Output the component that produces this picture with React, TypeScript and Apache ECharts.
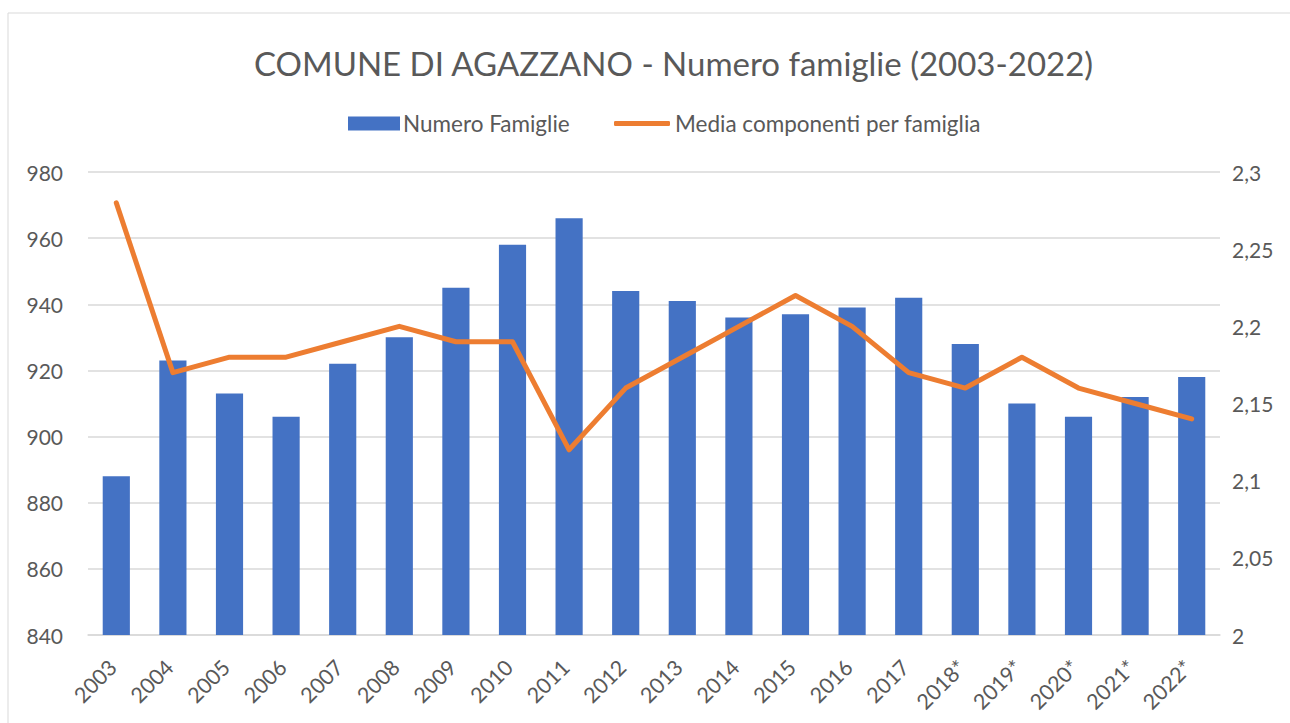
import React, { useEffect, useRef } from "react";
import * as echarts from "echarts";

const categories = ["2003","2004","2005","2006","2007","2008","2009","2010","2011","2012","2013","2014","2015","2016","2017","2018*","2019*","2020*","2021*","2022*"];
const famiglie = [888,923,913,906,922,930,945,958,966,944,941,936,937,939,942,928,910,906,912,918];
const mediaComponenti = [2.28,2.17,2.18,2.18,2.19,2.2,2.19,2.19,2.12,2.16,2.18,2.2,2.22,2.2,2.17,2.16,2.18,2.16,2.15,2.14];

const FONT = "Lato, 'Open Sans', sans-serif";
const TXT = "#595959";

export default function App() {
  const ref = useRef<HTMLDivElement>(null);
  useEffect(() => {
    if (!ref.current) return;
    const chart = echarts.init(ref.current, undefined, { renderer: "svg" });
    chart.setOption({
      animation: false,
      backgroundColor: "#ffffff",
      textStyle: { fontFamily: FONT, color: TXT },
      graphic: [
        { type: "rect", shape: { x: 8, y: 13, width: 1300, height: 720 }, style: { fill: "none", stroke: "#D9D9D9", lineWidth: 1 }, silent: true },
      ],
      title: {
        text: "COMUNE DI AGAZZANO - Numero famiglie (2003-2022)",
        left: 249,
        top: 41,
        textStyle: { fontFamily: FONT, fontSize: 33, fontWeight: "normal", color: TXT },
      },
      legend: [
        {
          data: [{ name: "Numero Famiglie", icon: "rect" }],
          left: 343,
          top: 107,
          itemWidth: 52,
          itemHeight: 14,
          itemGap: 0,
          textStyle: { fontFamily: FONT, fontSize: 22.5, color: TXT, padding: [0, 0, 0, -2] },
        },
        {
          data: [{ name: "Media componenti per famiglia", icon: "roundRect" }],
          left: 609,
          top: 107,
          itemWidth: 56,
          itemHeight: 5,
          textStyle: { fontFamily: FONT, fontSize: 22.5, color: TXT },
        },
      ],
      grid: { left: 88, right: 70, top: 172, bottom: 88 },
      xAxis: {
        type: "category",
        data: categories,
        axisTick: { show: false },
        axisLine: { lineStyle: { color: "#D9D9D9", width: 1.5 } },
        axisLabel: { rotate: 45, fontSize: 21.5, color: TXT, fontFamily: FONT, margin: 25, padding: [0, 5, 0, 0], interval: 0 },
      },
      yAxis: [
        {
          type: "value",
          min: 840,
          max: 980,
          interval: 20,
          axisLabel: { fontSize: 21, color: TXT, fontFamily: FONT, margin: 25 },
          splitLine: { lineStyle: { color: "#D9D9D9", width: 1.5 } },
          axisLine: { show: false },
          axisTick: { show: false },
        },
        {
          type: "value",
          min: 2,
          max: 2.3,
          interval: 0.05,
          axisLabel: {
            fontSize: 21,
            color: TXT,
            fontFamily: FONT,
            margin: 12,
            formatter: (v: number) => String(Number(v.toFixed(2))).replace(".", ","),
          },
          splitLine: { show: false },
          axisLine: { show: false },
          axisTick: { show: false },
        },
      ],
      series: [
        {
          name: "Numero Famiglie",
          type: "bar",
          data: famiglie,
          barWidth: "48%",
          itemStyle: { color: "#4472C4" },
          yAxisIndex: 0,
        },
        {
          name: "Media componenti per famiglia",
          type: "line",
          data: mediaComponenti,
          yAxisIndex: 1,
          symbol: "none",
          itemStyle: { color: "#ED7D31" },
          lineStyle: { color: "#ED7D31", width: 5, join: "round", cap: "round" },
        },
      ],
    });
    return () => chart.dispose();
  }, []);
  return <div ref={ref} style={{ position: "fixed", left: 0, top: 0, width: 1290, height: 723 }} />;
}
